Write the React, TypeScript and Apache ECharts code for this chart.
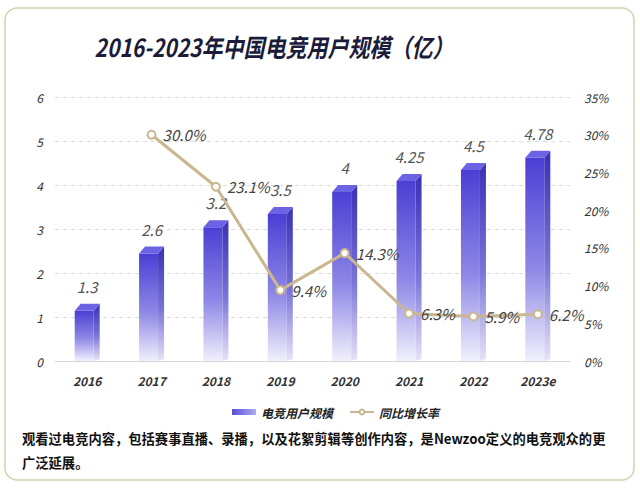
import React, { useEffect, useRef } from "react";
import * as echarts from "echarts";

const categories = ["2016", "2017", "2018", "2019", "2020", "2021", "2022", "2023e"];
const userScale = [1.3, 2.6, 3.2, 3.5, 4, 4.25, 4.5, 4.78];
const growthRate = [null, 30.0, 23.1, 9.4, 14.3, 6.3, 5.9, 6.2];
const leftTicks = { min: 0, max: 6, interval: 1 };
const rightTicks = { min: 0, max: 35, interval: 5 };
const titleText = "2016-2023年中国电竞用户规模（亿）";
const noteLines = [
  "观看过电竞内容，包括赛事直播、录播，以及花絮剪辑等创作内容，是Newzoo定义的电竞观众的更",
  "广泛延展。",
];

const FONT = "'Noto Sans CJK SC', 'Noto Sans', sans-serif";

export default function App() {
  const ref = useRef<HTMLDivElement>(null);
  useEffect(() => {
    if (!ref.current) return;
    const chart = echarts.init(ref.current, undefined, { renderer: "svg" });
    const G = echarts.graphic;
    const frontGrad = () =>
      new G.LinearGradient(0, 0, 0, 1, [
        { offset: 0, color: "#4a3fd4" },
        { offset: 0.55, color: "#8f88e6" },
        { offset: 1, color: "#f1f0fc" },
      ]);
    const sideGrad = () =>
      new G.LinearGradient(0, 0, 0, 1, [
        { offset: 0, color: "#3a30b4" },
        { offset: 0.55, color: "#7b74d8" },
        { offset: 1, color: "#e6e4f8" },
      ]);

    const option: any = {
      animation: false,
      backgroundColor: "#ffffff",
      textStyle: { fontFamily: FONT },
      graphic: [
        {
          type: "rect",
          shape: { x: 5, y: 8, width: 629, height: 472, r: 12 },
          style: { fill: "none", stroke: "#d8cfae", lineWidth: 1.5 },
          z: -10,
        },
        {
          type: "text",
          x: 274,
          y: 46,
          scaleX: 0.84,
          style: {
            text: titleText,
            fontFamily: FONT,
            fontSize: 25,
            fontWeight: "bold",
            fontStyle: "italic",
            fill: "#1b1b3a",
            align: "center",
            verticalAlign: "middle",
          },
        },
        {
          type: "text",
          x: 22,
          y: 438,
          scaleX: 0.95,
          style: {
            text: noteLines[0],
            fontFamily: FONT,
            fontSize: 14,
            fontWeight: "bold",
            fill: "#111111",
            verticalAlign: "middle",
          },
        },
        {
          type: "text",
          x: 22,
          y: 462,
          scaleX: 0.95,
          style: {
            text: noteLines[1],
            fontFamily: FONT,
            fontSize: 14,
            fontWeight: "bold",
            fill: "#111111",
            verticalAlign: "middle",
          },
        },
      ],
      legend: {
        left: 227,
        top: 401,
        itemWidth: 24,
        itemHeight: 6,
        itemGap: 16,
        textStyle: {
          fontSize: 12,
          color: "#222",
          fontStyle: "italic",
          fontWeight: "bold",
          fontFamily: FONT,
        },
        data: [
          {
            name: "电竞用户规模",
            icon: "rect",
            itemStyle: {
              color: new G.LinearGradient(0, 0, 1, 0, [
                { offset: 0, color: "#5a50d8" },
                { offset: 1, color: "#b0abee" },
              ]),
            },
          },
          { name: "同比增长率" },
        ],
      },
      grid: { left: 55, right: 70, top: 97, bottom: 127 },
      xAxis: {
        type: "category",
        data: categories,
        axisLine: { lineStyle: { color: "#d5d5d5" } },
        axisTick: { show: false },
        axisLabel: {
          color: "#333",
          fontSize: 12,
          fontStyle: "italic",
          fontWeight: "bold",
          margin: 13,
        },
      },
      yAxis: [
        {
          type: "value",
          ...leftTicks,
          axisLine: { show: false },
          axisTick: { show: false },
          axisLabel: { color: "#333", fontSize: 12, fontStyle: "italic", margin: 12 },
          splitLine: { lineStyle: { color: "#dcdcdc", type: [4, 4] } },
        },
        {
          type: "value",
          ...rightTicks,
          position: "right",
          axisLine: { show: false },
          axisTick: { show: false },
          axisLabel: {
            color: "#333",
            fontSize: 12,
            fontStyle: "italic",
            margin: 14,
            formatter: "{value}%",
          },
          splitLine: { show: false },
        },
      ],
      series: [
        {
          name: "电竞用户规模",
          type: "custom",
          yAxisIndex: 0,
          z: 2,
          itemStyle: { color: "#5a50d8" },
          data: userScale.map((v, i) => [i, v]),
          renderItem: (params: any, api: any) => {
            const idx = api.value(0);
            const val = api.value(1);
            const top = api.coord([idx, val]);
            const bot = api.coord([idx, 0]);
            const cx = top[0];
            const frontW = 19;
            const sideW = 6;
            const dy = 7;
            const x0 = cx - 12.5;
            const x1 = x0 + frontW;
            const x2 = x1 + sideW;
            const yTop = top[1];
            const yFront = yTop + dy;
            const yBot = bot[1];
            return {
              type: "group",
              children: [
                {
                  type: "polygon",
                  shape: { points: [[x0, yFront], [x1, yFront], [x1, yBot], [x0, yBot]] },
                  style: { fill: frontGrad() },
                },
                {
                  type: "polygon",
                  shape: { points: [[x1, yFront], [x2, yTop], [x2, yBot - 2], [x1, yBot]] },
                  style: { fill: sideGrad() },
                },
                {
                  type: "polygon",
                  shape: { points: [[x0, yFront], [x0 + sideW, yTop], [x2, yTop], [x1, yFront]] },
                  style: { fill: "#6b62e4" },
                },
                {
                  type: "text",
                  x: cx,
                  y: yTop - 10,
                  style: {
                    text: String(userScale[idx]),
                    fontFamily: FONT,
                    fontSize: 15,
                    fontStyle: "italic",
                    fill: "#555",
                    align: "center",
                    verticalAlign: "bottom",
                  },
                },
              ],
            };
          },
        },
        {
          name: "同比增长率",
          type: "line",
          yAxisIndex: 1,
          z: 5,
          data: growthRate,
          symbol: "circle",
          symbolSize: 8,
          showSymbol: true,
          lineStyle: { color: "#cbb78f", width: 3 },
          itemStyle: { color: "#fff", borderColor: "#cbb78f", borderWidth: 2 },
          label: {
            show: true,
            position: "right",
            distance: 6,
            fontFamily: FONT,
            fontSize: 15,
            fontStyle: "italic",
            color: "#444",
            formatter: (p: any) => (p.value == null ? "" : Number(p.value).toFixed(1) + "%"),
          },
        },
      ],
    };
    chart.setOption(option);
    return () => chart.dispose();
  }, []);
  return (
    <div
      ref={ref}
      style={{ position: "fixed", left: 0, top: 0, width: 640, height: 488, background: "#fff" }}
    />
  );
}
